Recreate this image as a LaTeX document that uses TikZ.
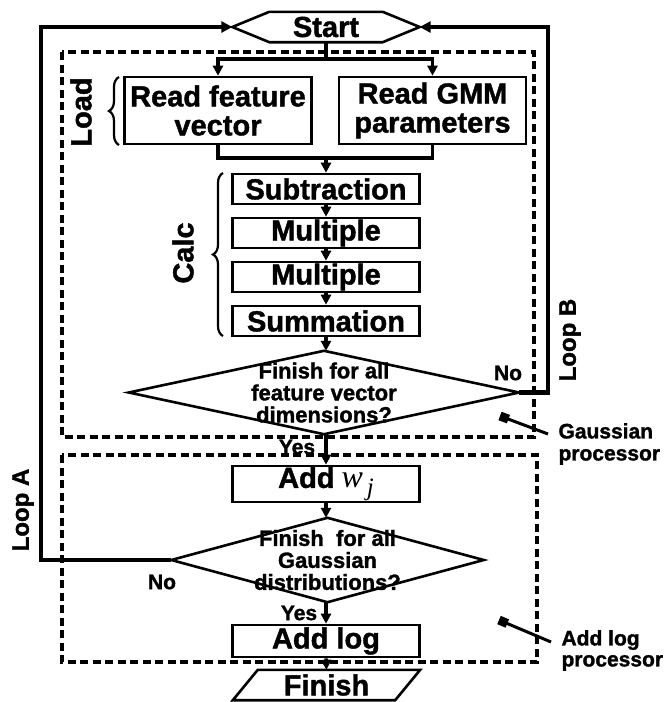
\documentclass[tikz,border=0pt]{standalone}
\usepackage{fontspec}
\setmainfont[BoldFeatures={FakeBold=1.4}]{Liberation Sans}
\newfontfamily\serifit{Liberation Serif}
\usetikzlibrary{arrows.meta,decorations.pathreplacing,calc}
\begin{document}
\begin{tikzpicture}[x=1pt,y=-1pt,
  bigtxt/.style={font=\fontsize{29}{29}\selectfont\bfseries},
  midtxt/.style={font=\fontsize{22}{22}\selectfont\bfseries},
  smalltxt/.style={font=\fontsize{21}{21}\selectfont\bfseries},
  looptxt/.style={font=\fontsize{24}{24}\selectfont\bfseries},
  stepbox/.style={draw,line width=2.6pt,minimum width=187pt,minimum height=30pt,inner sep=0pt,bigtxt,align=center},
  plainnode/.style={inner sep=0pt,minimum width=187pt,minimum height=30pt,bigtxt},
  decnode/.style={inner sep=0pt,midtxt,align=center},
  outline/.style={line width=2.6pt,line join=miter},
  flow/.style={line width=3.4pt,-{Triangle[length=10pt,width=10pt]}},
  link/.style={line width=3.4pt},
  loopline/.style={line width=4.6pt,-{Triangle[length=11pt,width=11pt]}},
  unit/.style={line width=3.2pt,dash pattern=on 8pt off 4.5pt},
  curly/.style={line width=2.2pt,decorate,decoration={brace,amplitude=10pt}},
  pointer/.style={line width=3pt,-{Square[length=9pt,width=9pt]}}
]
\useasboundingbox (0,0) rectangle (667,702);

% processor units
\draw[unit] (62,52) rectangle (534,437);
\draw[unit] (62,455) rectangle (537,662);

% start terminal
\node[plainnode] (start) at (326,27) {Start};
\draw[outline] (start.west) -- ($(start.north west)+(37,0)$) -- ($(start.north east)+(-37,0)$)
  -- (start.east) -- ($(start.south east)+(-37,0)$) -- ($(start.south west)+(37,0)$) -- cycle;

% load stage
\node[stepbox,minimum height=67pt] (rfv) at (218,110.5) {Read feature\\vector};
\node[stepbox,minimum height=67pt] (rgmm) at (432.5,110.5) {Read GMM\\parameters};

% calc stage
\node[stepbox] (sub) at (326,189) {Subtraction};
\node[stepbox] (mul1) at (326,233) {Multiple};
\node[stepbox] (mul2) at (326,277) {Multiple};
\node[stepbox] (sum) at (326,321) {Summation};

% decision over feature dimensions
\node[decnode,minimum width=390pt,minimum height=83pt] (dec1) at (324,392.5) {Finish for all\\feature vector\\dimensions?};
\draw[outline] (dec1.north) -- (dec1.east) -- (dec1.south) -- (dec1.west) -- cycle;

% weight and log stages
\node[stepbox,minimum height=36pt] (addw) at (326,484)
  {Add\hspace{7pt}{\serifit\mdseries\itshape\fontsize{32}{32}\selectfont w\hspace{4pt}\raisebox{-8pt}{\fontsize{25}{25}\selectfont j}}};
\node[decnode,minimum width=312pt,minimum height=84pt] (dec2) at (327.5,560) {Finish\ \ for all\\Gaussian\\distributions?};
\draw[outline] (dec2.north) -- (dec2.east) -- (dec2.south) -- (dec2.west) -- cycle;
\node[stepbox,minimum height=32pt] (addlog) at (326,641) {Add log};

% finish terminal
\node[plainnode] (finish) at (326.5,685) {Finish};
\draw[outline] (finish.south west) -- ($(finish.north west)+(25,0)$) -- (finish.north east)
  -- ($(finish.south east)+(-25,0)$) -- cycle;

% connectors
\coordinate (split) at (326,59);
\coordinate (merge) at (326,158);
\draw[link] (start.south) -- (split);
\draw[flow] (split) -| (rfv.north);
\draw[flow] (split) -| (rgmm.north);
\draw[link] (rfv.south) -- (rfv.south |- merge) -- (rgmm.south |- merge) -- (rgmm.south);
\draw[flow] (merge) -- (sub.north);
\draw[flow] (sub.south) -- (mul1.north);
\draw[flow] (mul1.south) -- (mul2.north);
\draw[flow] (mul2.south) -- (sum.north);
\draw[flow] (sum.south) -- (sum.south |- dec1.north);
\draw[flow] (sum.south |- dec1.south) -- (addw.north);
\draw[flow] (addw.south) -- (addw.south |- dec2.north);
\draw[flow] (addw.south |- dec2.south) -- (addlog.north);
\draw[flow] (addlog.south) -- (finish.north);

% loops
\coordinate (bcorner) at (548,392.5);
\coordinate (acorner) at (41,560);
\draw[loopline] (dec1.east) -- (bcorner) -- (bcorner |- start.east) -- (start.east);
\draw[loopline] (dec2.west) -- (acorner) -- (acorner |- start.west) -- (start.west);

% branch labels
\node[smalltxt] (no1) at (508,373) {No};
\node[smalltxt] (yes1) at (297,447) {Yes};
\node[smalltxt] (no2) at (162,582) {No};
\node[smalltxt] (yes2) at (299,613) {Yes};
\node[looptxt,rotate=90] (loopb) at (570,340) {Loop B};
\node[looptxt,rotate=90] (loopa) at (23,510) {Loop A};

% stage braces
\node[bigtxt,rotate=90] (loadlbl) at (81,112) {Load};
\draw[curly] (119,145) -- (119,77);
\node[bigtxt,rotate=90] (calclbl) at (183,253) {Calc};
\draw[curly] (223,336) -- (223,173);

% unit callouts
\node[align=left,anchor=west,font=\fontsize{21}{22}\selectfont\bfseries] (gproc) at (555,444) {Gaussian\\processor};
\node[align=left,anchor=west,font=\fontsize{21}{21}\selectfont\bfseries] (lproc) at (558,650.5) {Add log\\processor};
\coordinate (gfrom) at (548,434);
\coordinate (gto) at (500,416);
\coordinate (lfrom) at (551,642);
\coordinate (lto) at (499,620);
\draw[pointer] (gfrom) -- (gto);
\draw[pointer] (lfrom) -- (lto);
\end{tikzpicture}
\end{document}
